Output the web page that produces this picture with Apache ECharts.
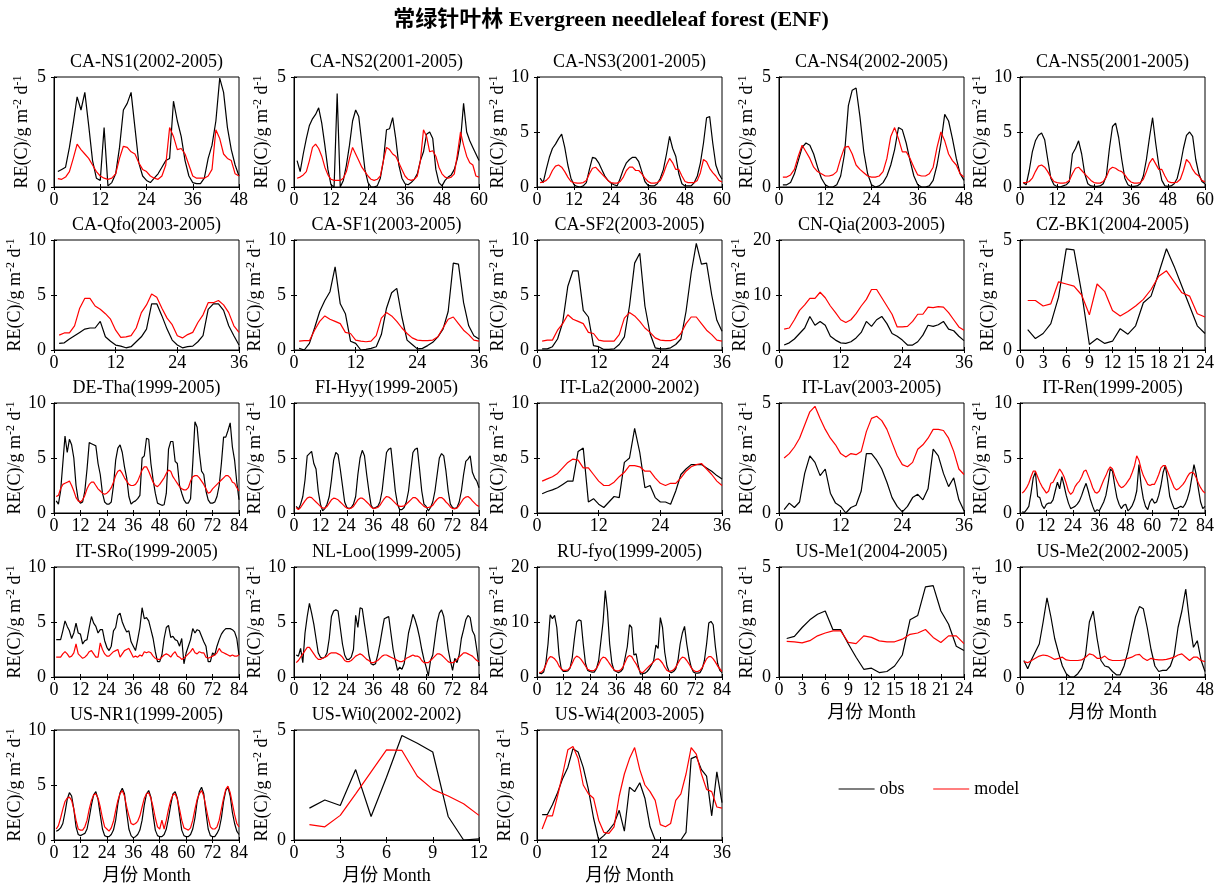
<!DOCTYPE html>
<html>
<head>
<meta charset="utf-8">
<title>ENF RE obs vs model</title>
<script src="https://cdn.jsdelivr.net/npm/echarts@6/dist/echarts.min.js"></script>
<style>
  html, body { margin: 0; padding: 0; background: #fff; }
  #chart { width: 1222px; height: 889px; }
</style>
</head>
<body>
<div id="chart"></div>
<script>
// 站点名称（子图标题）
const siteNames = [
  'CA-NS1(2002-2005)', 'CA-NS2(2001-2005)', 'CA-NS3(2001-2005)', 'CA-NS4(2002-2005)', 'CA-NS5(2001-2005)',
  'CA-Qfo(2003-2005)', 'CA-SF1(2003-2005)', 'CA-SF2(2003-2005)', 'CN-Qia(2003-2005)', 'CZ-BK1(2004-2005)',
  'DE-Tha(1999-2005)', 'FI-Hyy(1999-2005)', 'IT-La2(2000-2002)', 'IT-Lav(2003-2005)', 'IT-Ren(1999-2005)',
  'IT-SRo(1999-2005)', 'NL-Loo(1999-2005)', 'RU-fyo(1999-2005)', 'US-Me1(2004-2005)', 'US-Me2(2002-2005)',
  'US-NR1(1999-2005)', 'US-Wi0(2002-2002)', 'US-Wi4(2003-2005)'
]
// y轴上限与刻度间隔
const yTop = [5, 5, 10, 5, 10, 10, 10, 10, 20, 5, 10, 10, 10, 5, 10, 10, 10, 20, 5, 10, 10, 5, 5]
const yStep = [5, 5, 5, 5, 5, 5, 5, 5, 10, 5, 5, 5, 5, 5, 5, 5, 5, 10, 5, 5, 5, 5, 5]
// x轴刻度间隔（月）
const xStep = [12, 12, 12, 12, 12, 12, 12, 12, 12, 3, 12, 12, 12, 12, 12, 12, 12, 12, 3, 12, 12, 3, 12]

// 各站点月值 obs / model
const caNs1Obs = [0.7, 0.8, 0.9, 1.8, 2.9, 4.1, 3.5, 4.3, 2.8, 1.2, 0.4, 0.3, 2.7, 0.05, 0.2, 0.6, 1.8, 3.5, 3.8, 4.3, 2.7, 1.1, 0.5, 0.3, 0.2, 0.4, 0.6, 0.9, 1.2, 1.3, 3.9, 3.0, 2.3, 1.2, 0.5, 0.2, 0.15, 0.15, 0.4, 1.3, 1.9, 3.0, 4.95, 4.3, 2.7, 1.7, 1.0, 0.5]
const caNs1Model = [0.38, 0.35, 0.45, 0.7, 1.3, 1.95, 1.7, 1.5, 1.3, 1.0, 0.7, 0.5, 0.4, 0.35, 0.4, 0.6, 1.3, 1.85, 1.8, 1.6, 1.5, 1.1, 0.8, 0.7, 0.5, 0.4, 0.35, 0.5, 1.0, 2.7, 2.3, 1.7, 1.75, 1.5, 1.0, 0.5, 0.4, 0.4, 0.4, 0.5, 0.8, 2.6, 2.2, 1.5, 1.3, 1.2, 0.6, 0.5]
const caNs2Obs = [1.2, 0.7, 1.5, 2.2, 2.8, 3.1, 3.3, 3.6, 2.9, 1.9, 0.8, 0.1, 0, 4.25, 0, 0.3, 1.0, 1.9, 3.0, 3.5, 3.2, 2.0, 0.8, 0.2, 0, 0, 0.05, 0.4, 1.2, 2.6, 2.65, 3.15, 2.2, 1.0, 0.4, 0.15, 0.1, 0.2, 0.35, 0.6, 1.2, 1.6, 2.4, 2.5, 2.2, 0.8, 0.2, 0.05, 0.3, 0.45, 0.55, 0.8, 1.3, 2.1, 3.8, 2.5, 2.1, 1.8, 1.5, 1.2]
const caNs2Model = [0.4, 0.45, 0.55, 0.7, 1.2, 1.8, 1.95, 1.75, 1.4, 0.9, 0.55, 0.35, 0.3, 0.3, 0.3, 0.4, 0.7, 1.3, 1.8, 1.5, 1.2, 0.9, 0.7, 0.5, 0.35, 0.3, 0.35, 0.5, 1.2, 1.8, 1.7, 1.5, 1.4, 1.1, 0.8, 0.5, 0.35, 0.3, 0.35, 0.5, 1.2, 2.6, 2.3, 1.6, 1.65, 1.4, 0.9, 0.6, 0.45, 0.4, 0.45, 0.6, 1.5, 2.5, 1.9, 1.4, 1.1, 1.0, 0.5, 0.45]
const caNs3Obs = [0.8, 0.4, 1.6, 2.7, 3.5, 3.9, 4.4, 4.8, 3.6, 2.0, 0.8, 0.2, 0.05, 0, 0.1, 0.4, 1.6, 2.7, 2.6, 2.2, 1.6, 1.0, 0.6, 0.35, 0.2, 0.1, 0.8, 1.6, 2.2, 2.5, 2.7, 2.7, 2.3, 1.4, 0.5, 0.15, 0.1, 0.1, 0.3, 0.8, 1.6, 3.0, 4.6, 3.5, 2.8, 1.2, 0.3, 0.1, 0.1, 0.1, 0.4, 1.0, 2.2, 4.0, 6.3, 6.4, 4.0, 2.0, 1.2, 0.7]
const caNs3Model = [0.4, 0.45, 0.6, 0.9, 1.5, 1.9, 2.0, 1.8, 1.4, 0.9, 0.5, 0.4, 0.35, 0.35, 0.4, 0.6, 1.2, 1.7, 1.8, 1.5, 1.2, 0.9, 0.6, 0.4, 0.35, 0.35, 0.5, 0.9, 1.5, 1.8, 1.8, 1.5, 1.5, 1.2, 0.8, 0.5, 0.35, 0.35, 0.4, 0.6, 1.2, 2.0, 2.6, 2.2, 1.6, 1.6, 1.0, 0.5, 0.4, 0.4, 0.4, 0.6, 1.3, 2.5, 2.3, 1.7, 1.3, 1.0, 0.6, 0.45]
const caNs4Obs = [0.1, 0.1, 0.2, 0.6, 1.2, 1.8, 2.0, 1.9, 1.5, 0.9, 0.4, 0.1, 0, 0, 0.1, 0.5, 1.5, 3.7, 4.4, 4.5, 3.2, 1.6, 0.6, 0.1, 0, 0.05, 0.2, 0.5, 1.0, 1.7, 2.7, 2.6, 2.0, 1.2, 0.5, 0.1, 0, 0, 0.05, 0.3, 1.0, 2.0, 3.3, 3.0, 2.2, 1.3, 0.6, 0.3]
const caNs4Model = [0.45, 0.45, 0.55, 0.8, 1.4, 1.9, 1.6, 1.3, 0.9, 0.7, 0.6, 0.5, 0.5, 0.55, 0.7, 1.3, 1.8, 1.85, 1.5, 1.0, 0.8, 0.65, 0.5, 0.45, 0.45, 0.5, 0.7, 1.3, 2.3, 2.7, 2.2, 1.6, 1.6, 1.3, 0.9, 0.55, 0.5, 0.5, 0.6, 0.9, 1.8, 2.5, 2.1, 1.5, 1.2, 1.0, 0.6, 0.45]
const caNs5Obs = [0.4, 0.2, 1.5, 3.2, 4.2, 4.7, 4.9, 4.3, 2.5, 0.8, 0.2, 0.05, 0, 0.1, 0.2, 0.5, 3.0, 3.5, 4.2, 3.0, 1.2, 0.3, 0.1, 0.05, 0.05, 0.1, 0.3, 1.0, 3.5, 5.5, 5.8, 4.5, 2.5, 0.8, 0.2, 0.05, 0.05, 0.1, 0.3, 1.0, 2.5, 4.5, 6.3, 4.0, 2.0, 0.6, 0.1, 0.05, 0.1, 0.3, 0.8, 2.0, 3.5, 4.7, 5.0, 4.6, 2.5, 1.2, 0.5, 0.3]
const caNs5Model = [0.4, 0.4, 0.5, 0.8, 1.4, 1.9, 2.0, 1.8, 1.4, 0.9, 0.5, 0.4, 0.35, 0.35, 0.4, 0.6, 1.2, 1.7, 1.8, 1.5, 1.2, 0.9, 0.6, 0.4, 0.35, 0.35, 0.5, 0.9, 1.6, 1.8, 1.7, 1.5, 1.4, 1.1, 0.7, 0.45, 0.35, 0.35, 0.4, 0.7, 1.4, 2.2, 2.6, 2.1, 1.6, 1.6, 1.0, 0.5, 0.4, 0.4, 0.45, 0.7, 1.5, 2.5, 2.2, 1.6, 1.2, 1.0, 0.6, 0.45]
const caQfoObs = [0.6, 0.65, 1.0, 1.3, 1.6, 1.9, 2.0, 2.0, 2.6, 1.2, 0.8, 0.45, 0.35, 0.2, 0.3, 0.75, 1.2, 1.9, 4.2, 4.2, 3.1, 1.9, 0.9, 0.45, 0.2, 0.3, 0.35, 0.75, 1.3, 3.7, 4.2, 4.2, 3.6, 2.2, 1.3, 0.45]
const caQfoModel = [1.35, 1.55, 1.55, 2.2, 3.8, 4.7, 4.7, 4.0, 3.7, 3.3, 2.8, 1.8, 1.15, 1.2, 1.3, 2.0, 3.4, 4.1, 5.1, 4.8, 3.8, 2.9, 2.3, 1.3, 1.1, 1.4, 1.6, 2.5, 3.2, 4.3, 4.3, 4.5, 4.1, 3.4, 2.2, 1.6]
const caSf1Obs = [0.15, 0, 0.6, 2.0, 3.5, 4.5, 5.3, 7.55, 4.2, 3.3, 0.8, 0.6, 0, 0.05, 0.15, 0.3, 1.4, 3.8, 5.2, 5.6, 3.0, 0.9, 0.5, 0.1, 0.15, 0.4, 0.7, 1.2, 1.9, 3.5, 7.9, 7.8, 4.3, 2.2, 1.3, 1.0]
const caSf1Model = [0.8, 0.85, 0.85, 1.8, 2.6, 3.1, 2.8, 2.6, 2.4, 1.6, 1.5, 0.9, 0.8, 0.75, 0.8, 1.3, 2.9, 3.4, 3.1, 2.6, 2.0, 1.5, 1.1, 0.9, 0.85, 0.85, 0.9, 1.2, 2.0, 2.8, 3.0, 2.4, 1.8, 1.4, 0.9, 0.8]
const caSf2Obs = [0.1, 0.1, 0.3, 1.0, 2.5, 5.8, 7.2, 7.2, 3.6, 3.0, 0.4, 0.3, 0.05, 0.05, 0.1, 0.5, 1.2, 4.0, 7.9, 8.8, 4.0, 1.5, 0.2, 0.1, 0.1, 0.2, 0.5, 1.0, 3.5, 7.0, 9.7, 7.8, 7.9, 5.0, 2.7, 1.7]
const caSf2Model = [0.8, 0.9, 0.9, 1.8, 2.4, 3.2, 2.8, 2.6, 2.4, 1.6, 1.5, 0.9, 0.8, 0.8, 0.8, 1.4, 2.9, 3.4, 3.1, 2.6, 2.0, 1.6, 1.1, 0.9, 0.85, 0.85, 1.0, 1.5, 2.4, 3.0, 3.0, 2.4, 1.8, 1.4, 0.9, 0.8]
const cnQiaObs = [0.9, 1.3, 2.0, 3.0, 4.0, 6.1, 4.5, 5.2, 4.5, 2.5, 1.8, 1.3, 1.2, 1.5, 2.2, 3.2, 5.2, 4.3, 5.5, 6.1, 4.8, 3.0, 2.5, 1.8, 0.9, 0.9, 1.5, 2.7, 4.5, 4.3, 4.6, 5.2, 3.8, 3.5, 2.5, 1.7]
const cnQiaModel = [3.8, 4.0, 5.5, 7.2, 8.2, 9.4, 9.4, 10.5, 9.5, 8.0, 6.8, 5.5, 5.0, 5.5, 6.6, 8.0, 9.2, 11.0, 11.0, 9.5, 8.0, 6.5, 4.2, 4.2, 4.3, 5.2, 6.5, 6.5, 7.8, 7.7, 7.9, 7.8, 6.8, 5.5, 4.2, 3.6]
const czBk1Obs = [0.93, 0.52, 0.75, 1.2, 2.4, 4.6, 4.55, 2.6, 0.25, 0.52, 0.3, 0.4, 0.97, 0.72, 1.1, 2.15, 2.45, 3.5, 4.6, 3.8, 2.9, 2.0, 1.1, 0.75]
const czBk1Model = [2.25, 2.25, 2.0, 2.1, 3.1, 3.0, 2.9, 2.5, 1.6, 3.0, 2.65, 1.8, 1.55, 1.75, 2.0, 2.3, 2.75, 3.35, 3.6, 3.1, 2.6, 2.45, 1.65, 1.5]
const deThaObs = [
  1.1, 0.8, 2.0, 4.5, 7.0, 5.5, 6.7, 6.2, 5.0, 2.5, 1.2, 0.9,
  1.0, 2.0, 4.0, 6.4, 6.3, 6.2, 6.1, 4.5, 3.5, 1.8, 1.0, 0.8,
  0.8, 1.0, 2.5, 4.8, 5.9, 6.2, 5.5, 4.2, 3.2, 1.5, 0.8, 1.0,
  1.1, 1.3, 1.6, 5.0, 5.2, 6.8, 6.7, 4.5, 3.0, 1.8, 0.9, 0.8,
  0.7, 0.75, 1.8, 5.8, 6.5, 6.5, 4.7, 4.5, 2.5, 1.8, 1.2, 0.9,
  0.9, 1.3, 4.5, 8.3, 7.8, 5.5, 3.8, 3.5, 2.0, 1.2, 0.9, 0.9,
  1.0, 1.5, 2.5, 4.5, 6.9, 6.9, 7.5, 8.2, 6.0, 4.8, 2.8, 1.2
]
const deThaModel = [
  1.5, 1.6, 2.2, 2.6, 2.7, 2.8, 2.9, 2.5, 2.0, 1.4, 1.1, 1.0,
  1.2, 1.6, 2.2, 2.6, 2.8, 2.8, 2.5, 2.2, 2.0, 1.8, 1.7, 1.8,
  2.0, 2.3, 2.8, 3.4, 3.8, 3.9, 3.6, 3.2, 2.9, 2.6, 2.5, 2.5,
  2.6, 2.9, 3.4, 3.9, 4.2, 4.2, 3.8, 3.3, 2.8, 2.5, 2.4, 2.6,
  2.9, 3.2, 3.6, 3.9, 3.8, 3.3, 3.0, 2.7, 2.4, 2.2, 2.1, 2.1,
  2.3, 2.9, 3.3, 3.4, 3.4, 3.2, 2.9, 2.6, 2.2, 1.8, 1.9, 2.2,
  2.4, 2.6, 2.8, 3.0, 3.2, 3.4, 3.4, 3.2, 2.8, 2.7, 2.3, 2.0
]
const fiHyyObs = [
  0.6, 0.35, 0.8, 1.5, 3.0, 5.2, 5.4, 5.6, 4.5, 4.0, 2.0, 0.8,
  0.2, 0.4, 0.8, 1.5, 3.0, 4.8, 5.5, 5.3, 4.0, 2.5, 1.0, 0.5,
  0.4, 0.5, 0.8, 1.5, 3.5, 5.0, 5.7, 5.2, 3.5, 2.0, 0.7, 0.4,
  0.5, 0.6, 1.0, 2.0, 3.8, 5.5, 5.8, 5.9, 4.0, 2.0, 0.8, 0.3,
  0.3, 0.5, 1.0, 2.0, 3.8, 5.5, 5.8, 5.9, 4.0, 2.0, 0.8, 0.6,
  0.2, 0.5, 1.0, 2.0, 3.5, 5.0, 5.4, 5.2, 3.8, 2.0, 0.8, 0.5,
  0.4, 0.5, 1.0, 2.0, 3.5, 4.7, 4.9, 5.2, 3.7, 3.2, 2.9, 2.3
]
const fiHyyModel = [
  0.5, 0.3, 0.5, 0.8, 1.1, 1.35, 1.45, 1.4, 1.2, 1.0, 0.8, 0.6,
  0.45, 0.45, 0.6, 0.9, 1.2, 1.35, 1.3, 1.2, 1.0, 0.8, 0.6, 0.45,
  0.4, 0.45, 0.6, 0.9, 1.2, 1.35, 1.35, 1.2, 1.0, 0.8, 0.55, 0.4,
  0.45, 0.5, 0.7, 1.0, 1.3, 1.5, 1.45, 1.3, 1.1, 0.9, 0.7, 0.6,
  0.6, 0.65, 0.8, 1.0, 1.2, 1.4, 1.4, 1.25, 1.0, 0.8, 0.6, 0.5,
  0.5, 0.55, 0.7, 1.0, 1.25, 1.4, 1.4, 1.25, 1.0, 0.8, 0.55, 0.4,
  0.4, 0.45, 0.7, 1.0, 1.3, 1.45, 1.5, 1.35, 1.1, 0.9, 0.7, 0.6
]
const itLa2Obs = [1.75, 1.95, 2.1, 2.3, 2.6, 2.9, 2.9, 5.6, 5.9, 1.0, 1.3, 0.8, 0.5, 1.0, 1.5, 1.4, 4.6, 5.0, 7.7, 5.5, 2.3, 2.5, 1.4, 1.0, 1.0, 0.8, 2.0, 3.5, 4.0, 4.4, 4.4, 4.4, 4.1, 3.8, 3.4, 3.1]
const itLa2Model = [2.9, 3.1, 3.3, 3.6, 4.1, 4.6, 4.9, 4.8, 4.1, 4.1, 3.5, 2.9, 2.5, 2.5, 2.8, 3.3, 3.7, 4.3, 4.3, 4.2, 3.8, 3.8, 3.2, 2.7, 2.5, 2.7, 2.7, 3.2, 3.8, 4.2, 4.4, 4.5, 4.0, 3.5, 2.9, 2.5]
const itLavObs = [0.15, 0.45, 0.25, 0.5, 1.8, 2.6, 2.3, 1.7, 2.0, 0.9, 0.45, 0.3, 0, 0.25, 0.35, 1.0, 2.7, 2.7, 2.4, 2.0, 1.4, 0.7, 0.3, 0.05, 0.3, 0.7, 0.85, 0.6, 1.1, 2.9, 2.6, 1.8, 1.2, 1.6, 0.6, 0.1]
const itLavModel = [2.5, 2.7, 3.0, 3.4, 4.0, 4.6, 4.85, 4.3, 3.8, 3.4, 3.1, 2.7, 2.55, 2.7, 2.65, 2.8, 3.7, 4.3, 4.4, 4.2, 3.8, 3.2, 2.6, 2.2, 2.1, 2.3, 2.9, 3.1, 3.4, 3.8, 3.8, 3.75, 3.4, 2.8, 2.0, 1.75]
const itRenObs = [
  0.1, 0.05, 0.3, 0.6, 1.8, 3.2, 3.7, 1.5, 1.4, 0.7, 0.4, 0.8,
  0.9, 0.9, 1.2, 2.0, 2.8, 2.2, 3.3, 2.5, 1.6, 0.9, 0.4, 0.5,
  0.6, 0.8, 1.1, 1.6, 2.2, 2.7, 2.0, 1.2, 0.6, 0.1, 0.3, 0.2,
  0.6, 1.0, 1.6, 2.7, 4.0, 3.8, 2.5, 1.4, 0.8, 0.4, 0.7, 0.8,
  0.2, 0.4, 0.7, 1.2, 2.0, 4.4, 2.5, 1.3, 0.6, 0.3, 1.0, 1.3,
  0.9, 1.0, 1.6, 2.5, 3.7, 4.3, 3.0, 1.5, 0.9, 0.4, 0.4, 0.5,
  0.6, 0.5, 0.8, 1.3, 2.0, 3.2, 4.4, 3.5, 2.2, 1.0, 0.4, 0.6
]
const itRenModel = [
  1.8, 2.0, 2.3, 2.7, 3.3, 3.8, 3.8, 3.3, 2.8, 2.4, 2.1, 1.8,
  2.0, 2.7, 2.8, 3.2, 3.6, 4.0, 3.7, 3.3, 2.7, 2.0, 1.7, 1.9,
  2.4, 2.7, 2.9, 3.3, 3.8, 3.9, 3.4, 2.9, 2.3, 1.9, 1.8, 2.0,
  2.5, 3.0, 3.4, 3.9, 4.2, 4.0, 3.4, 2.9, 2.5, 2.3, 2.4, 2.6,
  2.9, 3.2, 3.7, 4.3, 5.2, 4.8, 4.0, 3.4, 3.0, 2.6, 2.5, 2.6,
  2.6, 3.0, 3.5, 4.1, 4.3, 4.3, 3.8, 3.3, 2.8, 2.3, 2.1, 2.2,
  2.4, 2.6, 2.9, 3.3, 3.6, 3.7, 3.6, 3.2, 2.7, 2.3, 2.0, 1.8
]
const itSRoObs = [
  3.4, 3.4, 3.4, 4.2, 5.1, 4.6, 4.2, 3.5, 4.0, 4.9, 4.0, 3.9,
  3.0, 3.3, 3.4, 4.5, 5.5, 4.9, 4.6, 4.0, 4.3, 4.3, 3.3, 2.7,
  2.4, 2.8, 4.2, 4.5, 5.6, 5.8, 5.0, 4.5, 4.1, 4.2, 3.2, 2.8,
  2.4, 3.4, 4.5, 6.3, 5.3, 5.4, 5.1, 4.3, 3.5, 2.3, 1.4, 1.4,
  2.0, 3.5, 4.5, 4.7, 3.6, 3.7, 3.4, 3.3, 2.8, 3.5, 1.2, 2.2,
  2.8, 3.4, 4.4, 4.0, 4.3, 4.2, 3.7, 3.2, 2.8, 1.4, 1.4, 2.2,
  2.0, 2.8, 3.4, 3.9, 4.2, 4.4, 4.4, 4.4, 4.3, 4.1, 3.5, 2.0
]
const itSRoModel = [
  1.8, 1.8, 1.8, 2.1, 2.3, 2.1, 1.8, 1.9, 2.2, 3.0, 2.1, 1.9,
  1.7, 1.8, 2.0, 2.3, 2.4, 2.1, 1.8, 1.8, 3.1, 2.5, 2.1, 1.9,
  1.9, 2.1, 2.3, 2.4, 2.5, 1.8, 2.1, 2.4, 2.5, 2.6, 2.2, 1.8,
  1.9, 1.8, 2.0, 1.9, 2.3, 2.2, 2.3, 2.2, 1.9, 1.7, 1.6, 1.6,
  1.8, 2.0, 2.1, 2.0, 1.8, 2.1, 2.3, 1.9, 1.8, 1.6, 1.7, 1.9,
  2.1, 2.3, 2.6, 2.2, 2.1, 2.3, 2.2, 2.2, 1.8, 1.7, 1.8, 1.9,
  2.0, 2.2, 2.6, 2.3, 2.2, 2.1, 2.0, 1.9, 2.0, 1.9, 1.9, 2.0
]
const nlLooObs = [
  2.0, 1.9, 2.6, 1.3, 4.0, 5.5, 6.7, 5.8, 4.8, 3.5, 2.2, 1.8,
  1.7, 1.8, 2.2, 3.5, 5.5, 6.0, 6.1, 6.0, 4.5, 3.0, 2.0, 1.6,
  1.6, 1.8, 2.5, 5.6, 4.5, 6.3, 6.2, 4.8, 3.5, 2.0, 1.2, 1.1,
  1.2, 2.0, 3.0, 4.2, 5.3, 5.4, 5.5, 4.0, 2.5, 1.5, 0.6, 0.9,
  0.7, 1.2, 2.5, 4.0, 4.8, 5.7, 5.2, 4.5, 3.6, 2.5, 1.6, 0.9,
  0.1, 1.5, 2.0, 3.5, 5.0, 5.8, 6.1, 5.5, 4.0, 2.5, 1.5, 0.6,
  1.7, 1.3, 2.0, 3.5, 4.3, 5.2, 5.6, 5.4, 4.2, 3.8, 2.5, 1.0
]
const nlLooModel = [
  1.3, 1.5, 1.8, 2.1, 2.4, 2.7, 2.7, 2.4, 2.1, 1.8, 1.6, 1.6,
  1.7, 1.8, 1.9, 2.1, 2.2, 2.2, 2.2, 2.1, 2.0, 1.8, 1.5, 1.4,
  1.4, 1.5, 1.7, 1.9, 2.0, 2.1, 2.0, 1.8, 1.6, 1.5, 1.3, 1.3,
  1.4, 1.5, 1.7, 1.9, 2.0, 2.0, 1.9, 1.8, 1.7, 1.6, 1.5, 1.4,
  1.4, 1.5, 1.7, 1.8, 1.9, 2.0, 1.9, 1.9, 1.8, 1.5, 1.3, 1.3,
  1.3, 1.5, 1.7, 1.9, 2.1, 2.1, 2.0, 1.8, 1.6, 1.4, 1.3, 1.3,
  1.4, 1.6, 1.8, 2.0, 2.2, 2.2, 2.1, 2.0, 1.9, 1.7, 1.5, 1.4
]
const ruFyoObs = [
  0.7, 0.6, 0.9, 2.5, 6.0, 11.3, 10.6, 11.2, 9.0, 4.0, 1.5, 1.0,
  1.0, 1.1, 1.6, 3.5, 7.0, 10.0, 10.4, 10.2, 6.0, 2.5, 1.2, 1.0,
  0.9, 0.9, 1.5, 3.0, 6.5, 10.0, 15.7, 12.0, 6.0, 2.5, 1.2, 1.0,
  0.8, 1.0, 1.5, 3.5, 5.5, 9.5, 9.0, 4.0, 4.2, 2.0, 0.5, 0.6,
  0.7, 1.0, 1.5, 2.2, 3.0, 5.8, 5.2, 10.8, 9.0, 4.5, 2.0, 1.0,
  0.8, 1.0, 1.5, 3.0, 6.0, 8.0, 9.2, 6.0, 3.5, 1.8, 0.9, 0.7,
  0.7, 0.8, 1.5, 3.0, 6.0, 9.8, 10.1, 9.5, 5.5, 2.5, 1.2, 0.8
]
const ruFyoModel = [
  0.8, 0.9, 1.3, 2.2, 3.2, 3.7, 3.6, 3.3, 2.8, 2.0, 1.5, 1.2,
  1.2, 1.3, 1.7, 2.5, 3.4, 3.8, 3.6, 3.2, 2.6, 2.0, 1.4, 1.2,
  1.1, 1.2, 1.6, 2.3, 3.2, 3.6, 3.5, 3.0, 2.4, 1.8, 1.3, 1.1,
  1.1, 1.3, 1.8, 2.7, 3.6, 3.9, 3.7, 3.0, 2.4, 1.6, 0.9, 0.8,
  1.2, 1.6, 2.0, 2.4, 2.8, 3.2, 3.3, 3.0, 2.5, 1.8, 1.2, 1.0,
  1.1, 1.3, 1.8, 2.5, 3.2, 3.6, 3.5, 3.0, 2.4, 1.7, 1.2, 1.0,
  1.0, 1.2, 1.7, 2.5, 3.3, 3.7, 3.7, 3.3, 2.7, 2.0, 1.5, 1.0
]
const usMe1Obs = [1.75, 1.85, 2.25, 2.6, 2.85, 3.0, 2.15, 2.15, 1.5, 0.9, 0.35, 0.4, 0.2, 0.25, 0.5, 1.0, 2.6, 2.8, 4.1, 4.15, 3.0, 2.4, 1.4, 1.2]
const usMe1Model = [1.62, 1.6, 1.55, 1.65, 1.87, 2.0, 2.1, 2.1, 1.57, 1.52, 1.87, 1.8, 1.64, 1.6, 1.6, 1.72, 1.94, 2.0, 2.16, 1.8, 1.57, 1.87, 1.87, 1.52]
const usMe2Obs = [1.5, 0.75, 1.6, 2.3, 3.0, 5.0, 7.2, 5.5, 3.5, 2.2, 1.0, 0.3, 0, 0, 0.3, 0.8, 2.0, 5.0, 6.0, 3.5, 1.5, 1.0, 0.9, 0.5, 0.2, 0.2, 1.0, 2.3, 4.0, 5.5, 6.4, 6.2, 4.5, 2.5, 1.0, 0.5, 0.6, 0.6, 1.0, 2.0, 4.5, 6.0, 8.0, 5.0, 2.7, 3.3, 1.5, 0.5]
const usMe2Model = [1.4, 1.3, 1.5, 1.7, 1.9, 2.0, 1.95, 1.8, 1.6, 1.7, 1.8, 1.55, 1.5, 1.5, 1.5, 1.55, 1.8, 2.1, 2.0, 1.7, 1.7, 1.9, 1.6, 1.5, 1.5, 1.5, 1.55, 1.7, 1.8, 2.0, 2.05, 1.7, 1.5, 1.7, 1.6, 1.55, 1.55, 1.6, 1.7, 1.8, 2.0, 2.1, 1.8, 1.5, 1.8, 1.8, 1.5, 1.4]
const usNr1Obs = [
  0.8, 0.9, 1.1, 1.5, 2.5, 3.7, 4.3, 4.0, 2.8, 1.2, 0.5, 0.4,
  0.5, 0.6, 1.0, 2.0, 3.2, 4.1, 4.4, 3.7, 2.3, 1.0, 0.4, 0.3,
  0.3, 0.5, 0.9, 1.8, 3.3, 4.3, 4.7, 4.2, 2.5, 1.0, 0.4, 0.2,
  0.3, 0.5, 0.9, 1.8, 3.2, 4.2, 4.5, 3.9, 2.3, 0.9, 0.4, 0.3,
  0.3, 0.5, 1.0, 2.0, 3.2, 4.2, 4.4, 3.8, 2.3, 0.9, 0.4, 0.3,
  0.3, 0.5, 1.0, 2.0, 3.5, 4.4, 4.8, 4.2, 2.5, 1.0, 0.4, 0.3,
  0.3, 0.6, 1.0, 2.0, 3.5, 4.5, 4.8, 4.0, 2.5, 1.5, 0.8, 0.5
]
const usNr1Model = [
  1.0, 1.3, 2.0, 2.8, 3.5, 3.8, 3.9, 3.6, 2.8, 1.8, 1.0, 0.9,
  0.9, 1.2, 1.8, 2.8, 3.6, 4.1, 4.2, 3.8, 3.0, 2.0, 1.2, 1.0,
  0.8, 1.1, 1.7, 2.7, 3.6, 4.2, 4.5, 4.0, 3.0, 2.2, 1.5, 1.4,
  1.5, 1.7, 2.2, 3.0, 3.8, 4.2, 4.3, 3.8, 3.0, 2.0, 1.2, 1.0,
  1.8, 1.0, 1.8, 2.8, 3.6, 4.1, 4.2, 3.7, 2.8, 1.8, 1.1, 1.0,
  0.9, 1.1, 1.8, 2.8, 3.7, 4.2, 4.5, 4.0, 3.0, 2.0, 1.2, 1.0,
  1.0, 1.2, 1.8, 2.8, 3.8, 4.6, 4.9, 4.3, 3.3, 2.3, 1.5, 1.2
]
const usWi0Obs = [1.45, 1.82, 1.57, 3.2, 1.07, 2.85, 4.75, 4.4, 4.0, 1.07, 0, 0.05]
const usWi0Model = [0.7, 0.6, 1.12, 2.1, 3.1, 4.1, 4.07, 2.9, 2.3, 2.0, 1.65, 1.12]
const usWi4Obs = [1.15, 1.15, 1.6, 2.15, 2.8, 3.3, 4.15, 4.0, 3.3, 2.3, 1.0, 0, 0.2, 0.45, 0.75, 1.35, 0.4, 2.4, 2.2, 2.6, 1.9, 0.6, 0, 0, 0, 0, 0, 0, 0.35, 3.7, 3.8, 3.2, 2.9, 1.1, 3.1, 1.7]
const usWi4Model = [0.5, 1.1, 1.1, 2.0, 3.0, 4.1, 4.25, 3.7, 2.5, 2.1, 1.9, 0.9, 0.35, 0.3, 0.6, 2.0, 3.0, 3.7, 4.2, 3.2, 2.5, 2.2, 1.8, 0.7, 0.6, 0.75, 1.8, 2.1, 3.0, 4.2, 3.9, 3.0, 2.3, 2.2, 1.5, 1.45]

const obsData = [caNs1Obs, caNs2Obs, caNs3Obs, caNs4Obs, caNs5Obs, caQfoObs, caSf1Obs, caSf2Obs, cnQiaObs, czBk1Obs,
  deThaObs, fiHyyObs, itLa2Obs, itLavObs, itRenObs, itSRoObs, nlLooObs, ruFyoObs, usMe1Obs, usMe2Obs,
  usNr1Obs, usWi0Obs, usWi4Obs]
const modelData = [caNs1Model, caNs2Model, caNs3Model, caNs4Model, caNs5Model, caQfoModel, caSf1Model, caSf2Model, cnQiaModel, czBk1Model,
  deThaModel, fiHyyModel, itLa2Model, itLavModel, itRenModel, itSRoModel, nlLooModel, ruFyoModel, usMe1Model, usMe2Model,
  usNr1Model, usWi0Model, usWi4Model]

// 版面
const FONT = '"Liberation Serif", "Times New Roman", "Noto Sans CJK SC", serif'
const colLeft = [54, 294, 537, 779, 1020]
const rowTop = [77, 240, 403, 567, 730]
const plotW = 185
const plotH = 110
const withXName = [18, 19, 20, 21, 22] // 每列最下方的子图

const grid = []
const xAxis = []
const yAxis = []
const series = []
const graphic = [{
  type: 'text', x: 611, y: 20, silent: true,
  style: { text: '常绿针叶林 Evergreen needleleaf forest (ENF)', fontFamily: FONT, fontSize: 22, fontWeight: 'bold', fill: '#000', align: 'center', verticalAlign: 'middle' }
}]

const labelStyle = { fontFamily: FONT, fontSize: 18, color: '#000' }
const tickIn = { inside: true, length: 3, lineStyle: { color: '#000' } }
const mirrorX = []
const mirrorY = []

siteNames.forEach((site, i) => {
  const col = i % 5
  const row = Math.floor(i / 5)
  const left = colLeft[col]
  const top = rowTop[row]
  const n = obsData[i].length

  grid.push({ left, top, width: plotW, height: plotH, show: true, borderColor: '#000', borderWidth: 1, containLabel: false, outerBoundsMode: 'none' })

  xAxis.push({
    gridIndex: i, type: 'value', min: 0, max: n, interval: xStep[i],
    name: withXName.includes(i) ? '月份 Month' : '',
    nameLocation: 'middle', nameGap: 27,
    nameTextStyle: labelStyle,
    axisLine: { lineStyle: { color: '#000', width: 1 } },
    axisTick: tickIn,
    axisLabel: { ...labelStyle, margin: 4 },
    splitLine: { show: false }
  })
  // 上边框的镜像刻度
  mirrorX.push({
    gridIndex: i, type: 'value', position: 'top', min: 0, max: n, interval: xStep[i],
    axisLine: { show: false }, axisTick: tickIn, axisLabel: { show: false }, splitLine: { show: false }
  })

  yAxis.push({
    gridIndex: i, type: 'value', min: 0, max: yTop[i], interval: yStep[i],
    name: 'RE(C)/g m{s|-2} d{s|-1}',
    nameLocation: 'middle', nameGap: 22,
    nameTextStyle: { ...labelStyle, rich: { s: { fontFamily: FONT, fontSize: 12, color: '#000', verticalAlign: 'top', lineHeight: 20 } } },
    axisLine: { lineStyle: { color: '#000', width: 1 } },
    axisTick: tickIn,
    axisLabel: { ...labelStyle, margin: 8 },
    splitLine: { show: false }
  })
  // 右边框的镜像刻度
  mirrorY.push({
    gridIndex: i, type: 'value', position: 'right', min: 0, max: yTop[i], interval: yStep[i],
    axisLine: { show: false }, axisTick: tickIn, axisLabel: { show: false }, splitLine: { show: false }
  })

  series.push({
    name: 'obs', type: 'line', xAxisIndex: i, yAxisIndex: i,
    data: obsData[i].map((v, k) => [k + 1, v]),
    symbol: 'none', silent: true,
    lineStyle: { color: '#000', width: 1.2 }, itemStyle: { color: '#000' }
  })
  series.push({
    name: 'model', type: 'line', xAxisIndex: i, yAxisIndex: i,
    data: modelData[i].map((v, k) => [k + 1, v]),
    symbol: 'none', silent: true,
    lineStyle: { color: '#ff0000', width: 1.2 }, itemStyle: { color: '#ff0000' }
  })

  graphic.push({
    type: 'text', x: left + plotW / 2, y: top - 15, silent: true,
    style: { text: site, fontFamily: FONT, fontSize: 18, fill: '#000', align: 'center', verticalAlign: 'middle' }
  })
})

const chart = echarts.init(document.getElementById('chart'))
chart.setOption({
  backgroundColor: '#fff',
  animation: false,
  grid,
  xAxis: xAxis.concat(mirrorX),
  yAxis: yAxis.concat(mirrorY),
  series, graphic,
  legend: {
    data: ['obs', 'model'],
    left: 838, top: 780, padding: 0,
    itemWidth: 36, itemHeight: 12, itemGap: 28,
    itemStyle: { opacity: 0 },
    lineStyle: { width: 1.2 },
    textStyle: { fontFamily: FONT, fontSize: 18, color: '#000' }
  }
})
</script>
</body>
</html>
